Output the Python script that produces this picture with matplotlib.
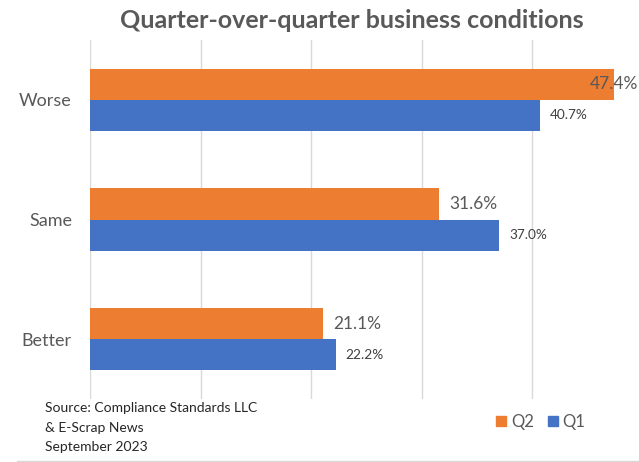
import matplotlib.pyplot as plt
from matplotlib.lines import Line2D
from matplotlib.patches import Patch

categories = ["Better", "Same", "Worse"]
q2 = [21.1, 31.6, 47.4]
q1 = [22.2, 37.0, 40.7]

orange = "#ED7D31"
blue = "#4472C4"
grey = "#595959"

plt.rcParams["font.family"] = ["Lato", "DejaVu Sans"]

fig = plt.figure(figsize=(6.39, 4.62), dpi=100)
W, H = 639, 462
# plot area in pixels: left 90, top 40, bottom 399, xlim 0-50 spans 553 px
ax = fig.add_axes([90 / W, 1 - 399 / H, 553 / W, 359 / H])
ax.set_xlim(0, 50)
ax.set_ylim(-0.5, 2.5)

h = 0.26
pos = range(len(categories))
ax.barh([p + h / 2 for p in pos], q2, height=h, color=orange, zorder=3)
ax.barh([p - h / 2 for p in pos], q1, height=h, color=blue, zorder=3)

# value labels, pushed back inside when they run past the figure edge
px = 50 / 553
for p, v in zip(pos, q2):
    x = v + 10 * px
    if 90 + (x + 48 * px) / px > 638:
        ax.text((638 - 90) * px, p + h / 2, f"{v:.1f}%", ha="right", va="center",
                fontsize=12.5, color=grey, zorder=4, clip_on=False)
    else:
        ax.text(x, p + h / 2, f"{v:.1f}%", ha="left", va="center",
                fontsize=12.5, color=grey, zorder=4, clip_on=False)
for p, v in zip(pos, q1):
    ax.text(v + 10 * px, p - h / 2, f"{v:.1f}%", ha="left", va="center",
            fontsize=9.8, color="#404040", zorder=4)

ax.set_xticks(range(0, 51, 10))
ax.set_xticklabels([])
ax.tick_params(axis="x", length=0)
ax.grid(axis="x", color="#D9D9D9", linewidth=1, zorder=0)
ax.set_yticks(list(pos))
ax.set_yticklabels(categories, fontsize=13, color=grey)
ax.tick_params(axis="y", length=0, pad=13)
for s in ax.spines.values():
    s.set_visible(False)

fig.text(352 / W, 1 - 20 / H, "Quarter-over-quarter business conditions",
         ha="center", va="center", fontsize=18, fontweight="bold", color=grey)

fig.text(45 / W, 1 - 408 / H, "Source: Compliance Standards LLC", ha="left", va="center",
         fontsize=10, color="#262626")
fig.text(45 / W, 1 - 428 / H, "& E-Scrap News", ha="left", va="center",
         fontsize=10, color="#262626")
fig.text(45 / W, 1 - 447 / H, "September 2023", ha="left", va="center",
         fontsize=10, color="#262626")

handles = [Patch(color=orange), Patch(color=blue)]
fig.legend(handles, ["Q2", "Q1"], loc="center", bbox_to_anchor=(541 / W, 1 - 422 / H),
           ncol=2, frameon=False, fontsize=12, labelcolor=grey, handlelength=0.6,
           handleheight=0.6, handletextpad=0.3, columnspacing=0.8)

fig.add_artist(Line2D([17 / W, 1], [1 - 461 / H, 1 - 461 / H], color="#D9D9D9", linewidth=1))

fig.savefig("out.png", dpi=100)
